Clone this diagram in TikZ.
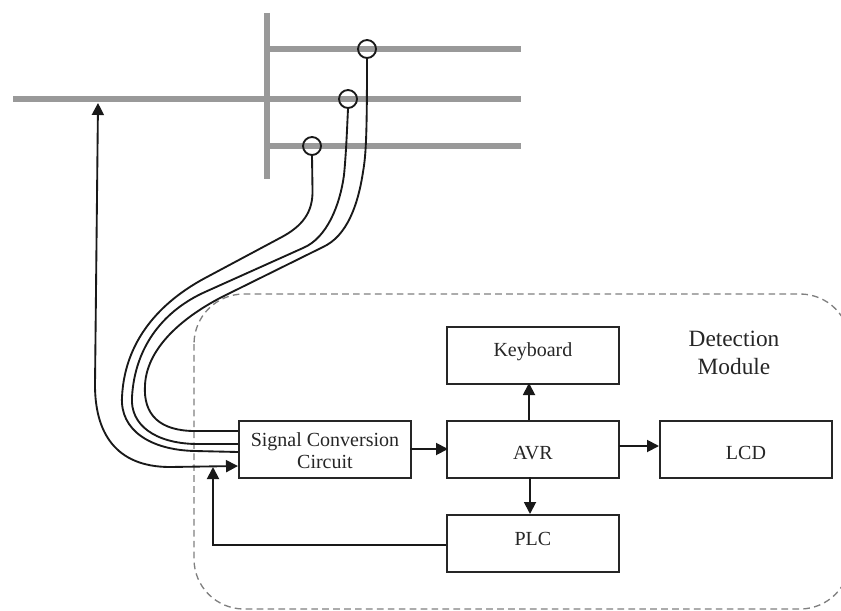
\documentclass[tikz,border=0pt]{standalone}
\usepackage{fontspec}
\setmainfont{Liberation Serif}
\usetikzlibrary{arrows.meta}
\newcommand{\blocktext}[2]{\raisebox{#1}[0pt][0pt]{#2}}
\tikzset{
  bus/.style={draw=black!40,line width=4.8pt,line cap=butt},
  block/.style={draw=black!85,line width=1.4pt,minimum width=129pt,minimum height=42.5pt,inner sep=0pt,font=\fontsize{15}{17}\selectfont,text=black!85,align=center,anchor=north west},
  wire/.style={draw=black!90,line width=1.4pt},
  flow/.style={wire,-{Triangle[length=9pt,width=9pt]}},
  twoway/.style={wire,{Triangle[length=9pt,width=9pt]}-{Triangle[length=9pt,width=9pt]}},
  probe/.style={circle,draw=black!90,line width=1.4pt,minimum size=13.5pt,inner sep=0pt},
  modulebox/.style={draw=black!50,line width=1pt,dash pattern=on 5pt off 3.2pt,rounded corners=37.5pt},
}
\begin{document}
\begin{tikzpicture}[x=0.75pt,y=-0.75pt]
\useasboundingbox (0,0) rectangle (841,610);
\begin{scope}
\clip (0,0) rectangle (841,610);
\draw[modulebox] (194,294) rectangle (850,609);
\end{scope}
% grid
\coordinate (vt) at (267,13);
\coordinate (vb) at (267,179);
\coordinate (mainl) at (13,99);
\coordinate (mainr) at (521,99);
\coordinate (upl) at (267,49);
\coordinate (upr) at (521,49);
\coordinate (lowl) at (267,146);
\coordinate (lowr) at (521,146);
\coordinate (tap) at (98,103);
\draw[bus] (vt) -- (vb);
\draw[bus] (mainl) -- (mainr);
\draw[bus] (upl) -- (upr);
\draw[bus] (lowl) -- (lowr);
\node[probe] (p1) at (367,49) {};
\node[probe] (p2) at (348,99) {};
\node[probe] (p3) at (312,146) {};
% blocks
\node[block] (sig) at (238,420) {\blocktext{-6.3pt}{\begin{tabular}{@{}c@{}}Signal Conversion\\[-0.5pt]Circuit\end{tabular}}};
\node[block] (avr) at (446,420) {\blocktext{-7.6pt}{AVR}};
\node[block] (key) at (446,326) {\blocktext{-0.9pt}{Keyboard}};
\node[block] (plc) at (446,514) {\blocktext{-1.6pt}{PLC}};
\node[block] (lcd) at (659,420) {\blocktext{-7.6pt}{LCD}};
\node[font=\fontsize{17.5}{21}\selectfont,text=black!85,align=center] (title) at (734,353) {Detection\\Module};
% wires into the signal block
\coordinate (s1) at (238,431);
\coordinate (s2) at (238,444);
\coordinate (s3) at (238,452);
\coordinate (s4) at (238,466);
\draw[wire] (p1.south) .. controls (367,135) and (366,155) .. (363,172)
  .. controls (358,205) and (347,236) .. (323,247) -- (230,293)
  .. controls (188,313) and (147,345) .. (145,385)
  .. controls (143,415) and (160,431) .. (195,431) -- (s1);
\draw[wire] (p2.south) .. controls (347,130) and (346,155) .. (344,175)
  .. controls (340,205) and (327,238) .. (303,248) -- (205,292)
  .. controls (165,310) and (135,345) .. (132,397)
  .. controls (130,425) and (155,443) .. (195,444) -- (s2);
\draw[wire] (p3.south) -- (312.5,190)
  .. controls (313,212) and (303,226) .. (280,238) -- (207,277)
  .. controls (167,298) and (125,335) .. (122,397)
  .. controls (120,430) and (150,450) .. (195,451) -- (s3);
\draw[twoway] (tap) -- (95,385) .. controls (95,432) and (115,467) .. (170,467) -- (s4);
\coordinate (sigout) at (410,449);
\coordinate (avrin) at (448,449);
\draw[flow] (sigout) -- (avrin);
\coordinate (avrout) at (619,446);
\coordinate (lcdin) at (659,446);
\draw[flow] (avrout) -- (lcdin);
\coordinate (avrup) at (529,420);
\coordinate (keyin) at (529,383);
\draw[flow] (avrup) -- (keyin);
\coordinate (avrdn) at (530,477);
\coordinate (plcin) at (530,514);
\draw[flow] (avrdn) -- (plcin);
\coordinate (plcout) at (446,545);
\coordinate (plccorner) at (213,545);
\coordinate (sigfb) at (213,467);
\draw[flow] (plcout) -- (plccorner) -- (sigfb);
\end{tikzpicture}
\end{document}
